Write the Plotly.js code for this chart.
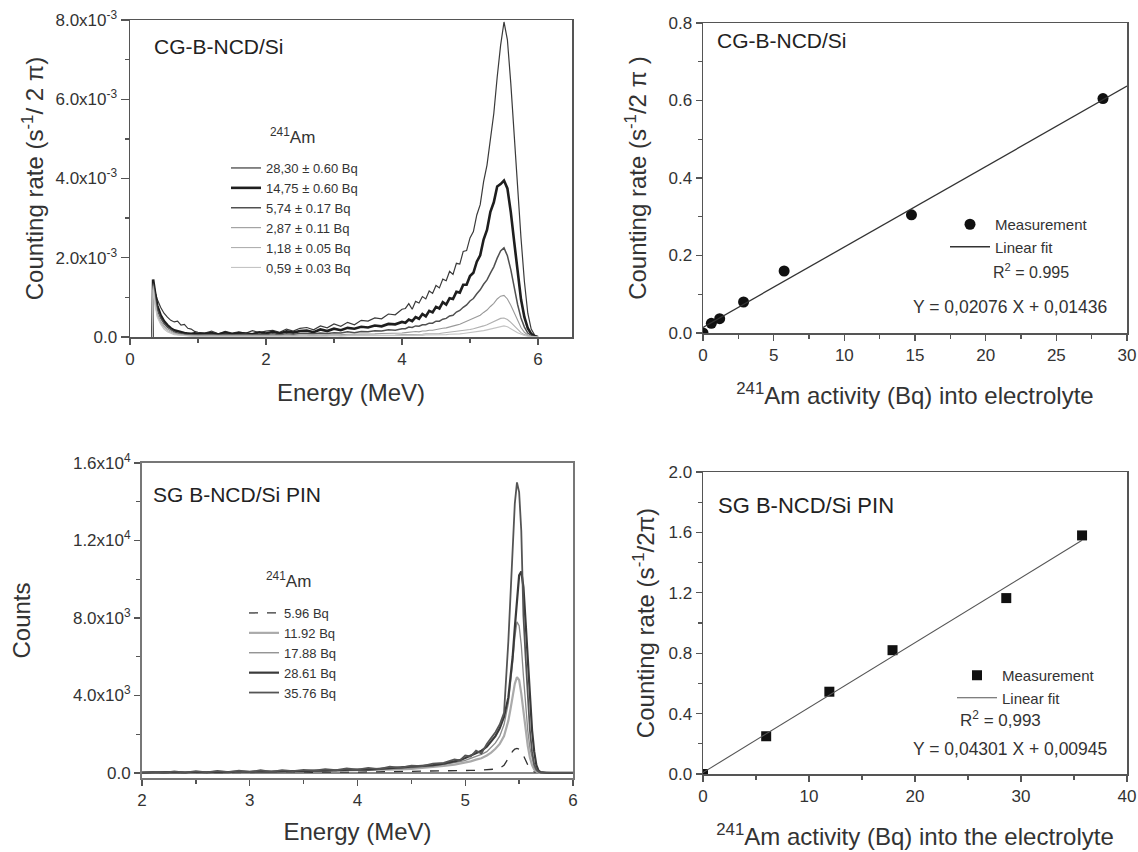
<!DOCTYPE html>
<html><head><meta charset="utf-8">
<script src="https://cdn.plot.ly/plotly-3.0.1.min.js"></script>
<style>html,body{margin:0;padding:0;background:#fff}#chart{width:1138px;height:852px}</style>
</head><body><div id="chart"></div><script>
// ---------- Panel (a): CG-B-NCD/Si spectra (values in units of 1e-3 s^-1/2pi) ----------
const energyTop = [0.33,0.34,0.37,0.40,0.45,0.50,0.55,0.60,0.65,0.70,0.75,0.80,0.85,0.90,0.95,1.00,
 1.1,1.2,1.3,1.4,1.5,1.6,1.7,1.8,1.9,2.0,2.1,2.2,2.3,2.4,2.5,2.6,2.7,2.8,2.9,3.0,3.1,3.2,3.3,3.4,3.5,3.6,3.7,3.8,3.9,4.0,
 4.05,4.10,4.15,4.20,4.25,4.30,4.35,4.40,4.45,4.50,4.55,4.60,4.65,4.70,4.75,4.80,4.85,4.90,4.95,5.00,
 5.05,5.10,5.15,5.20,5.25,5.30,5.35,5.40,5.45,5.50,5.55,5.60,5.65,5.70,5.75,5.80,5.85,5.90,5.95,6.00];
const rate2830 = [0,1.40,1.15,0.95,0.75,0.60,0.50,0.42,0.38,0.40,0.30,0.32,0.22,0.20,0.14,0.12,
 0.10,0.15,0.08,0.14,0.10,0.13,0.09,0.16,0.11,0.15,0.17,0.12,0.20,0.15,0.22,0.24,0.18,0.28,0.23,0.33,0.27,0.37,0.31,0.42,0.40,0.48,0.46,0.58,0.56,0.70,
 0.72,0.84,0.70,0.90,0.86,1.02,0.96,1.16,1.10,1.30,1.24,1.46,1.42,1.66,1.58,1.86,1.84,2.16,2.18,2.50,
 2.66,3.08,3.34,3.92,4.34,5.06,5.64,6.56,7.36,7.95,7.50,6.40,5.00,3.70,2.50,1.40,0.60,0.20,0.05,0.00];
const rate1475 = [0,1.45,1.10,0.80,0.55,0.40,0.30,0.22,0.17,0.14,0.12,0.10,0.09,0.08,0.09,0.08,
 0.08,0.10,0.06,0.11,0.07,0.10,0.09,0.07,0.12,0.09,0.13,0.09,0.14,0.11,0.15,0.16,0.12,0.19,0.15,0.21,0.17,0.23,0.21,0.26,0.24,0.29,0.27,0.33,0.32,0.38,
 0.36,0.44,0.40,0.50,0.46,0.58,0.52,0.66,0.62,0.76,0.72,0.88,0.82,0.98,0.96,1.14,1.12,1.32,1.32,1.54,
 1.62,1.90,2.06,2.46,2.70,3.16,3.40,3.80,3.86,3.95,3.75,3.15,2.40,1.60,0.95,0.50,0.22,0.08,0.02,0.00];
const rate574 = [0,1.35,1.00,0.70,0.48,0.34,0.25,0.18,0.13,0.10,0.08,0.07,0.06,0.05,0.05,0.05,
 0.05,0.06,0.04,0.07,0.05,0.06,0.07,0.05,0.07,0.06,0.08,0.06,0.08,0.07,0.09,0.09,0.08,0.10,0.09,0.11,0.10,0.13,0.11,0.14,0.13,0.16,0.15,0.18,0.17,0.21,
 0.21,0.25,0.24,0.28,0.27,0.31,0.31,0.35,0.35,0.40,0.40,0.45,0.47,0.53,0.55,0.63,0.67,0.75,0.81,0.91,
 0.97,1.09,1.19,1.33,1.44,1.61,1.77,1.99,2.17,2.25,2.05,1.70,1.25,0.82,0.48,0.25,0.10,0.04,0.01,0.00];
const rate287 = [0,1.30,0.90,0.60,0.40,0.28,0.20,0.14,0.10,0.08,0.06,0.05,0.04,0.04,0.03,0.03,
 0.03,0.03,0.04,0.03,0.03,0.04,0.03,0.04,0.04,0.03,0.04,0.04,0.05,0.04,0.05,0.05,0.05,0.06,0.05,0.06,0.06,0.07,0.07,0.07,0.08,0.08,0.09,0.09,0.10,0.10,
 0.11,0.12,0.12,0.14,0.13,0.15,0.15,0.17,0.17,0.19,0.20,0.22,0.23,0.26,0.27,0.30,0.32,0.36,0.38,0.43,
 0.46,0.51,0.55,0.62,0.68,0.77,0.85,0.96,1.03,1.05,0.96,0.80,0.60,0.40,0.24,0.12,0.05,0.02,0.01,0.00];
const rate118 = [0,1.25,0.85,0.55,0.36,0.24,0.16,0.11,0.08,0.06,0.05,0.04,0.03,0.03,0.02,0.02,
 0.02,0.02,0.03,0.02,0.02,0.03,0.02,0.03,0.02,0.03,0.03,0.02,0.03,0.03,0.03,0.03,0.04,0.03,0.04,0.04,0.04,0.04,0.04,0.05,0.04,0.05,0.05,0.05,0.05,0.06,
 0.06,0.06,0.06,0.07,0.07,0.07,0.08,0.08,0.08,0.09,0.09,0.10,0.11,0.12,0.13,0.14,0.15,0.16,0.18,0.19,
 0.21,0.23,0.26,0.28,0.31,0.35,0.39,0.43,0.47,0.48,0.44,0.37,0.28,0.19,0.11,0.06,0.03,0.01,0.00,0.00];
const rate059 = [0,1.20,0.80,0.50,0.32,0.20,0.13,0.09,0.06,0.05,0.04,0.03,0.02,0.02,0.02,0.01,
 0.01,0.02,0.01,0.01,0.02,0.01,0.02,0.01,0.02,0.02,0.01,0.02,0.02,0.02,0.02,0.02,0.02,0.02,0.02,0.03,0.02,0.03,0.03,0.03,0.03,0.03,0.03,0.03,0.04,0.03,
 0.04,0.04,0.04,0.04,0.04,0.04,0.05,0.05,0.05,0.05,0.06,0.06,0.06,0.07,0.07,0.08,0.08,0.09,0.10,0.11,
 0.12,0.13,0.15,0.16,0.18,0.20,0.23,0.25,0.27,0.28,0.26,0.22,0.16,0.11,0.07,0.04,0.02,0.01,0.00,0.00];
const namesTop = ["28,30 \u00b1 0.60 Bq","14,75 \u00b1 0.60 Bq","5,74 \u00b1 0.17 Bq","2,87 \u00b1 0.11 Bq","1,18 \u00b1 0.05 Bq","0,59 \u00b1 0.03 Bq"];
const seriesTop = [rate2830, rate1475, rate574, rate287, rate118, rate059];
const ticksTopVals = [0, 0.002, 0.004, 0.006, 0.008];
const ticksTopText = ["0.0","2.0x10<sup>-3</sup>","4.0x10<sup>-3</sup>","6.0x10<sup>-3</sup>","8.0x10<sup>-3</sup>"];

// ---------- Panel (b): CG-B-NCD/Si calibration ----------
const activityTop = [0, 0.59, 1.18, 2.87, 5.74, 14.75, 28.30];
const rateTop = [0, 0.025, 0.037, 0.080, 0.160, 0.305, 0.605];
const fitTopSlope = 0.02076, fitTopIntercept = 0.01436, fitTopX = [0, 30];

// ---------- Panel (c): SG B-NCD/Si PIN spectra (counts) ----------
const energyBot = [2.0,2.1,2.2,2.3,2.4,2.5,2.6,2.7,2.8,2.9,3.0,3.1,3.2,3.3,3.4,3.5,3.6,3.7,3.8,3.9,4.0,4.1,4.2,4.3,4.4,4.5,
 4.6,4.7,4.8,4.9,4.95,5.0,5.05,5.1,5.15,5.2,
 5.24,5.28,5.32,5.36,5.40,5.42,5.44,5.46,5.48,5.50,5.52,5.54,5.56,5.58,5.60,5.62,5.64,5.66,5.68,5.70,5.75,5.8,6.0];
const counts596 = [10,5,15,10,20,10,15,20,15,25,20,30,25,30,35,30,40,35,45,50,45,55,60,60,70,75,
 80,90,100,110,115,120,130,140,150,165,
 180,200,250,400,750,950,1120,1230,1270,1230,1100,900,650,420,250,130,60,25,10,5,0,0,0];
const counts1192 = [15,25,10,30,20,35,25,40,30,50,45,55,50,65,70,60,85,80,95,110,120,115,140,160,180,210,
 250,300,360,430,480,540,600,690,760,900,
 1050,1250,1500,1900,2700,3300,4000,4600,4950,4800,4100,3100,2200,1400,800,400,180,70,20,5,0,0,0];
const counts1788 = [20,30,15,35,25,45,30,55,40,60,55,70,60,80,85,75,100,95,120,130,150,140,175,200,230,260,
 300,360,430,520,580,650,740,840,960,1100,
 1300,1550,1900,2500,3600,4500,5700,7000,7800,7600,6600,5000,3500,2200,1300,700,300,120,40,10,0,0,0];
const counts2861 = [20,35,15,40,25,50,35,60,45,75,55,85,70,95,100,90,125,115,145,160,180,170,210,240,270,300,
 340,400,480,590,660,770,900,1050,1150,1350,
 1600,1900,2300,2900,3900,4800,6000,7500,9000,10200,10400,9600,7800,5800,3800,2200,1100,400,120,40,10,0,0];
const counts3576 = [20,60,10,80,20,90,30,110,40,120,50,140,60,150,100,160,120,190,140,230,170,260,200,320,260,380,
 350,480,520,700,650,900,850,1150,1000,1500,
 1800,2100,2500,3100,6800,9300,11800,13900,15000,14500,12500,8100,6000,3800,2200,1100,450,180,70,25,10,0,0];
const namesBot = ["5.96 Bq","11.92 Bq","17.88 Bq","28.61 Bq","35.76 Bq"];
const seriesBot = [counts596, counts1192, counts1788, counts2861, counts3576];
const ticksBotVals = [0, 4000, 8000, 12000, 16000];
const ticksBotText = ["0.0","4.0x10<sup>3</sup>","8.0x10<sup>3</sup>","1.2x10<sup>4</sup>","1.6x10<sup>4</sup>"];

// ---------- Panel (d): SG B-NCD/Si PIN calibration ----------
const activityBot = [0, 5.96, 11.92, 17.88, 28.61, 35.76];
const rateBot = [0, 0.25, 0.545, 0.82, 1.165, 1.58];
const fitBotSlope = 0.04301, fitBotIntercept = 0.00945, fitBotX = [0, 35.76];

// ---------- styles ----------
const FONT = "Liberation Sans, Arial, sans-serif";
const TICK = 17, TITLE = 24;
const styleTop = [
  {color:"#3a3a3a", width:1.2},
  {color:"#1e1e1e", width:2.6},
  {color:"#505050", width:1.5},
  {color:"#9a9a9a", width:1.1},
  {color:"#b0b0b0", width:1.1},
  {color:"#c4c4c4", width:1.1}
];
const styleBot = [
  {color:"#333", width:1.3, dash:"dash"},
  {color:"#aaaaaa", width:2.2},
  {color:"#8a8a8a", width:1.3},
  {color:"#3a3a3a", width:2.2},
  {color:"#555555", width:1.8}
];

const traces = [];
seriesTop.forEach((s, i) => {
  traces.push({x: energyTop, y: s.map(v => v * 1e-3), type: "scatter", mode: "lines",
    name: namesTop[i], line: styleTop[i], xaxis: "x", yaxis: "y", legend: "legend"});
});
traces.push({x: activityTop, y: rateTop, type: "scatter", mode: "markers", name: "Measurement",
  marker: {symbol: "circle", size: 11, color: "#111"}, xaxis: "x2", yaxis: "y2", legend: "legend2", cliponaxis: true});
traces.push({x: fitTopX, y: fitTopX.map(v => fitTopSlope * v + fitTopIntercept), type: "scatter", mode: "lines",
  name: "Linear fit", line: {color: "#333", width: 1.3}, xaxis: "x2", yaxis: "y2", legend: "legend2"});
seriesBot.forEach((s, i) => {
  traces.push({x: energyBot, y: s, type: "scatter", mode: "lines",
    name: namesBot[i], line: styleBot[i], xaxis: "x3", yaxis: "y3", legend: "legend3"});
});
traces.push({x: activityBot, y: rateBot, type: "scatter", mode: "markers", name: "Measurement",
  marker: {symbol: "square", size: 10, color: "#111"}, xaxis: "x4", yaxis: "y4", legend: "legend4", cliponaxis: true});
traces.push({x: fitBotX, y: fitBotX.map(v => fitBotSlope * v + fitBotIntercept), type: "scatter", mode: "lines",
  name: "Linear fit", line: {color: "#555", width: 1.1}, xaxis: "x4", yaxis: "y4", legend: "legend4"});

function ttl(text, standoff) {
  return {text: text, standoff: standoff, font: {family: FONT, size: TITLE, color: "#333"}};
}
function ax(extra) {
  return Object.assign({
    showline: true, mirror: true, linecolor: "#555", linewidth: 1.5,
    ticks: "outside", ticklen: 6, tickcolor: "#555", tickwidth: 1.3,
    showgrid: false, zeroline: false,
    tickfont: {family: FONT, size: TICK, color: "#333"}
  }, extra);
}
const px = v => v / 1138, py = v => (852 - v) / 852;
const minorT = (extra) => Object.assign({ticks: "outside", ticklen: 4, tickcolor: "#555"}, extra);

const layout = {
  width: 1138, height: 852,
  margin: {l: 0, r: 0, t: 0, b: 0},
  paper_bgcolor: "#fff", plot_bgcolor: "#fff",
  font: {family: FONT, color: "#333"},
  xaxis: ax({domain: [px(130), px(572)], range: [0, 6.5], tickvals: [0,2,4,6],
    minor: minorT({tickvals: [1,3,5]}), anchor: "y", title: ttl("Energy (MeV)", 16)}),
  yaxis: ax({domain: [py(337), py(20)], range: [0, 0.008], tickvals: ticksTopVals, ticktext: ticksTopText,
    ticklen: 8, minor: minorT({tickvals: [0.001,0.003,0.005,0.007]}), anchor: "x",
    title: ttl("Counting rate (s<sup>-1</sup>/ 2 \u03c0)", 5)}),
  xaxis2: ax({domain: [px(703), px(1127)], range: [0, 30], dtick: 5,
    minor: minorT({dtick: 2.5}), anchor: "y2",
    title: ttl("<sup>241</sup>Am activity (Bq) into electrolyte", 23)}),
  yaxis2: ax({domain: [py(333), py(23)], range: [0, 0.8], dtick: 0.2, tickformat: ".1f",
    minor: minorT({dtick: 0.1}), anchor: "x2",
    title: ttl("Counting rate (s<sup>-1</sup>/2 \u03c0 )", 15)}),
  xaxis3: ax({domain: [px(142), px(573)], range: [2, 6], dtick: 1, linewidth: 2, linecolor: "#777",
    minor: minorT({dtick: 0.5}), anchor: "y3", title: ttl("Energy (MeV)", 14)}),
  yaxis3: ax({domain: [py(778), py(463)], range: [-260, 16000], tickvals: ticksBotVals, ticktext: ticksBotText,
    linewidth: 2, linecolor: "#777", zeroline: true, zerolinecolor: "#888", zerolinewidth: 2.5,
    minor: minorT({dtick: 2000}), anchor: "x3", title: ttl("Counts", 36)}),
  xaxis4: ax({domain: [px(703), px(1127)], range: [0, 40], dtick: 10,
    minor: minorT({dtick: 5}), anchor: "y4",
    title: ttl("<sup>241</sup>Am activity (Bq) into the electrolyte", 23)}),
  yaxis4: ax({domain: [py(774), py(472)], range: [0, 2.0], dtick: 0.4, tickformat: ".1f",
    minor: minorT({dtick: 0.2}), anchor: "x4",
    title: ttl("Counting rate (s<sup>-1</sup>/2\u03c0)", 7)}),
  legend: {x: px(226), y: py(153), xanchor: "left", yanchor: "top", bgcolor: "rgba(0,0,0,0)",
    font: {family: FONT, size: 13, color: "#333"}, itemwidth: 30, tracegroupgap: 0},
  legend2: {x: px(945), y: py(208), xanchor: "left", yanchor: "top", bgcolor: "rgba(0,0,0,0)",
    font: {family: FONT, size: 15, color: "#333"}, itemwidth: 40},
  legend3: {x: px(244), y: py(598), xanchor: "left", yanchor: "top", bgcolor: "rgba(0,0,0,0)",
    font: {family: FONT, size: 13, color: "#333"}, itemwidth: 30, tracegroupgap: 0},
  legend4: {x: px(952), y: py(659), xanchor: "left", yanchor: "top", bgcolor: "rgba(0,0,0,0)",
    font: {family: FONT, size: 15, color: "#333"}, itemwidth: 40},
  annotations: [
    {text: "<sup>241</sup>Am", xref: "paper", yref: "paper", x: px(293), y: py(136), xanchor: "center", yanchor: "middle", showarrow: false, font: {family: FONT, size: 17, color: "#333"}},
    {text: "<sup>241</sup>Am", xref: "paper", yref: "paper", x: px(288), y: py(580), xanchor: "center", yanchor: "middle", showarrow: false, font: {family: FONT, size: 17, color: "#333"}},
    {text: "CG-B-NCD/Si", xref: "paper", yref: "paper", x: px(152), y: py(46), xanchor: "left", yanchor: "middle", showarrow: false, font: {family: FONT, size: 21, color: "#222"}},
    {text: "CG-B-NCD/Si", xref: "paper", yref: "paper", x: px(715), y: py(41), xanchor: "left", yanchor: "middle", showarrow: false, font: {family: FONT, size: 21, color: "#222"}},
    {text: "SG B-NCD/Si PIN", xref: "paper", yref: "paper", x: px(151), y: py(494), xanchor: "left", yanchor: "middle", showarrow: false, font: {family: FONT, size: 21, color: "#222"}},
    {text: "SG B-NCD/Si PIN", xref: "paper", yref: "paper", x: px(716), y: py(505), xanchor: "left", yanchor: "middle", showarrow: false, font: {family: FONT, size: 22, color: "#222"}},
    {text: "R<sup>2</sup> = 0.995", xref: "paper", yref: "paper", x: px(1031), y: py(271), xanchor: "center", yanchor: "middle", showarrow: false, font: {family: FONT, size: 16, color: "#333"}},
    {text: "Y = 0,02076 X + 0,01436", xref: "paper", yref: "paper", x: px(1010), y: py(307), xanchor: "center", yanchor: "middle", showarrow: false, font: {family: FONT, size: 17.5, color: "#333"}},
    {text: "R<sup>2</sup> = 0,993", xref: "paper", yref: "paper", x: px(958), y: py(719), xanchor: "left", yanchor: "middle", showarrow: false, font: {family: FONT, size: 17, color: "#333"}},
    {text: "Y = 0,04301 X + 0,00945", xref: "paper", yref: "paper", x: px(1010), y: py(749), xanchor: "center", yanchor: "middle", showarrow: false, font: {family: FONT, size: 17.5, color: "#333"}}
  ]
};
Plotly.newPlot("chart", traces, layout, {displayModeBar: false, staticPlot: true});
</script></body></html>
